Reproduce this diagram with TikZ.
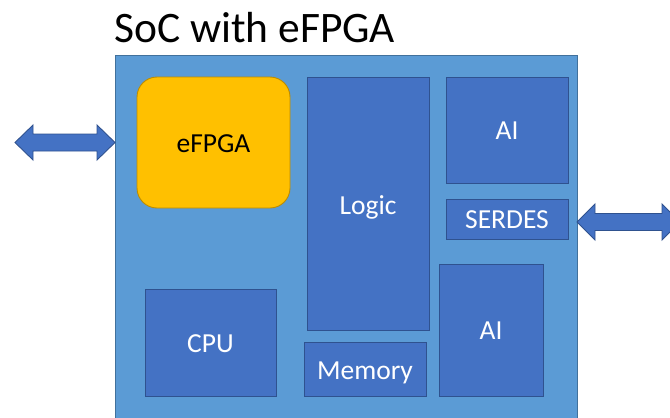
\documentclass[tikz,border=0pt]{standalone}
\usepackage{fontspec}
\setmainfont{Carlito}
\definecolor{socfill}{HTML}{5B9BD5}
\definecolor{socline}{HTML}{41719C}
\definecolor{blkfill}{HTML}{4472C4}
\definecolor{blkline}{HTML}{2F528F}
\definecolor{fpgafill}{HTML}{FFC000}
\definecolor{fpgaline}{HTML}{BC8C00}
\begin{document}
\begin{tikzpicture}[x=1pt,y=-1pt,
  blk/.style={draw=blkline,fill=blkfill,line width=0.9pt},
  lbl/.style={text=white,font=\fontsize{27.5}{30}\selectfont},
  barrow/.style={draw=blkline,fill=blkfill,line width=0.9pt,line join=miter}]
\useasboundingbox (0,0) rectangle (670,418);
\clip (0,0) rectangle (670,418);
\node[anchor=base west,inner sep=0pt,font=\fontsize{43.5}{46}\selectfont] (title) at (114,42) {SoC with eFPGA};
\draw[draw=socline,fill=socfill,line width=0.9pt] (115,55) rectangle (577,430);
% blocks
\draw[draw=fpgaline,fill=fpgafill,line width=0.9pt,rounded corners=20pt] (137,77) rectangle (290,208);
\node[lbl,text=black] (efpga) at (213.5,144) {eFPGA};
\draw[blk] (307,77) rectangle (429,330);
\node[lbl] (logic) at (368,207.5) {Logic};
\draw[blk] (446,77) rectangle (568,183);
\node[lbl] (ai1) at (507,131) {AI};
\draw[blk] (446,199) rectangle (568,239);
\node[lbl] (serdes) at (507,219.5) {SERDES};
\draw[blk] (145,289) rectangle (276,396);
\node[lbl] (cpu) at (210.5,344) {CPU};
\draw[blk] (304,342) rectangle (426,396);
\node[lbl] (mem) at (365,373) {Memory};
\draw[blk] (439,264) rectangle (543,396);
\node[lbl] (ai2) at (491,331) {AI};
% left block arrow
\draw[barrow] (15,142.5) -- (33,125) -- (33,134) -- (97,134) -- (97,125) -- (115,142.5)
  -- (97,160) -- (97,151) -- (33,151) -- (33,160) -- cycle;
% right block arrow
\draw[barrow] (577,222) -- (595,204) -- (595,213.5) -- (662,213.5) -- (662,204) -- (680,222)
  -- (662,240) -- (662,230.5) -- (595,230.5) -- (595,240) -- cycle;
\end{tikzpicture}
\end{document}
